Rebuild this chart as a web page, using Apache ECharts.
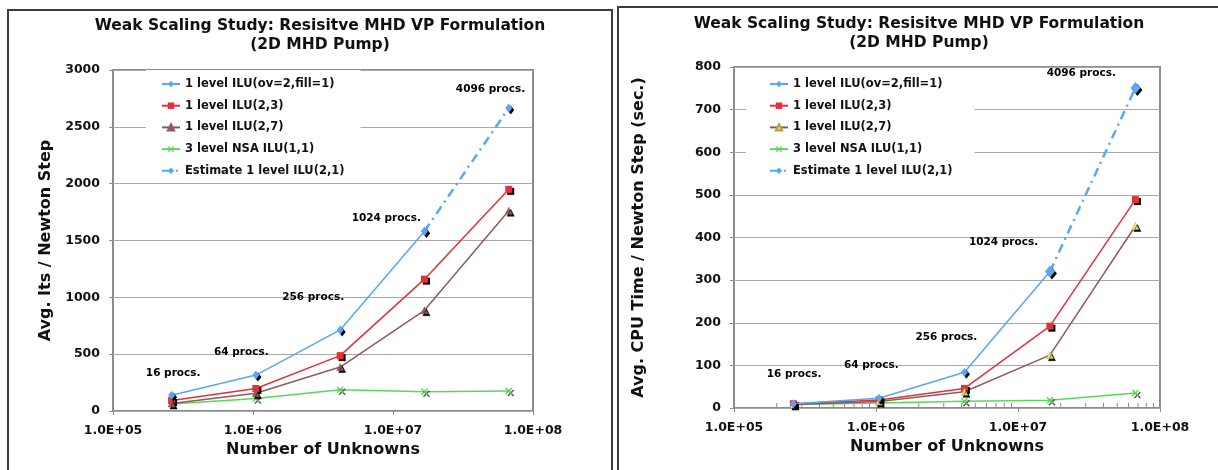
<!DOCTYPE html>
<html>
<head>
<meta charset="utf-8">
<script src="https://cdn.jsdelivr.net/npm/echarts@6/dist/echarts.min.js"></script>
<style>
html,body{margin:0;padding:0;background:#fff;width:1218px;height:470px;overflow:hidden;}
.box{position:absolute;box-sizing:border-box;border:2px solid #3c3c3c;}
.chart{position:absolute;top:0;height:470px;}
</style>
</head>
<body>
<div class="box" style="left:7px;top:9px;width:606px;height:520px"></div>
<div class="box" style="left:617px;top:6px;width:700px;height:520px"></div>
<div id="c1" class="chart" style="left:0;width:614px"></div>
<div id="c2" class="chart" style="left:614px;width:604px"></div>
<script>
// ---- data ----
const unknowns = [262144, 1048576, 4194304, 16777216, 67108864];
const seriesNames = ['1 level ILU(ov=2,fill=1)', '1 level ILU(2,3)', '1 level ILU(2,7)', '3 level NSA ILU(1,1)', 'Estimate 1 level ILU(2,1)'];
const procLabels = ['16 procs.', '64 procs.', '256 procs.', '1024 procs.', '4096 procs.'];
const xTickLabels = ['1.0E+05', '1.0E+06', '1.0E+07', '1.0E+08'];

// Avg. Its / Newton Step
const itsIlu21 = [138, 316, 713, 1582, null];
const itsEstimate = [null, null, null, 1582, 2665];
const itsIlu23 = [92, 198, 487, 1160, 1950];
const itsIlu27 = [66, 156, 387, 886, 1762];
const itsNsa = [62, 110, 187, 170, 176];
const itsLabelX = [2.69e5, 8.26e5, 2.69e6, 8.95e6, 4.97e7];
const itsLabelY = [334, 519, 1003, 1698, 2833];

// Avg. CPU Time / Newton Step (sec.)
const cpuIlu21 = [10, 23, 84, 320, null];
const cpuEstimate = [null, null, null, 320, 751];
const cpuIlu23 = [10, 19, 46, 192, 489];
const cpuIlu27 = [8, 15, 38, 124, 427];
const cpuNsa = [8, 12, 16, 18, 35];
const cpuLabelX = [2.65e5, 9.27e5, 3.13e6, 7.91e6, 2.79e7];
const cpuLabelY = [80, 101, 165, 388, 785];

// ---- styling ----
const FONT = '"DejaVu Sans", Verdana, sans-serif';
const BLUE = '#5aa7f2', RED = '#e5303a', BROWN = '#915a5a', GREEN = '#58d858', YELLOW = '#f2e36a';
const XPATH = 'path://M0,1.4L1.4,0L5,3.6L8.6,0L10,1.4L6.4,5L10,8.6L8.6,10L5,6.4L1.4,10L0,8.6L3.6,5Z';
const TITLE1 = 'Weak Scaling Study: Resisitve MHD VP Formulation';
const TITLE2 = '(2D MHD Pump)';

function pairs(vals) {
  const out = [];
  vals.forEach((v, i) => { if (v !== null) out.push([unknowns[i], v]); });
  return out;
}
function shadow(c) {
  return { shadowColor: c || '#000', shadowOffsetX: 2, shadowOffsetY: 2, shadowBlur: 0 };
}
function expLabel(v) {
  const e = Math.round(Math.log10(v));
  const idx = e - 5;
  return xTickLabels[idx] !== undefined ? xTickLabels[idx] : '';
}

function buildOption(cfg) {
  const series = [
    { name: seriesNames[0], type: 'line', data: pairs(cfg.v21), symbol: 'diamond', symbolSize: [7, 9],
      lineStyle: { color: BLUE, width: 1.5 }, itemStyle: Object.assign({ color: BLUE }, shadow()), z: 4 },
    { name: seriesNames[1], type: 'line', data: pairs(cfg.v23), symbol: 'rect', symbolSize: 7,
      lineStyle: { color: RED, width: 1.5 }, itemStyle: Object.assign({ color: RED }, shadow()), z: 3 },
    { name: seriesNames[2], type: 'line', data: pairs(cfg.v27), symbol: 'triangle', symbolSize: 7,
      lineStyle: { color: BROWN, width: 1.5 },
      itemStyle: Object.assign({ color: cfg.triFill, borderColor: cfg.triFill === YELLOW ? '#b8a040' : BROWN, borderWidth: 0.5 }, shadow()), z: 3 },
    { name: seriesNames[3], type: 'line', data: pairs(cfg.vNsa), symbol: XPATH, symbolSize: 7,
      lineStyle: { color: GREEN, width: 1.5 }, itemStyle: Object.assign({ color: GREEN }, shadow('#555')), z: 2 },
    { name: seriesNames[4], type: 'line', data: pairs(cfg.vEst), symbol: 'diamond', symbolSize: cfg.estSize,
      lineStyle: { color: BLUE, width: 2.5, type: [9, 5, 2, 5] }, itemStyle: Object.assign({ color: BLUE }, shadow()), z: 5 },
    { name: 'labels', type: 'scatter', silent: true, symbol: 'circle', symbolSize: 1,
      itemStyle: { color: 'rgba(0,0,0,0)' },
      data: cfg.labX.map((x, i) => ({ value: [x, cfg.labY[i]], name: procLabels[i] })),
      label: { show: true, position: 'inside', formatter: '{b}', fontFamily: FONT, fontWeight: 'bold', fontSize: 10.5,
        color: '#000', textBorderWidth: 0, opacity: 1 }, z: 6 }
  ];
  if (cfg.minorTicks) {
    const vals = [];
    for (let d = 5; d <= 7; d++) for (let k = 2; k <= 9; k++) vals.push(k * Math.pow(10, d));
    series.push({ type: 'custom', silent: true, z: 1, data: vals.map(v => [v, 0]),
      renderItem: (params, api) => {
        const p = api.coord([api.value(0), 0]);
        return { type: 'line', shape: { x1: p[0], y1: p[1], x2: p[0], y2: p[1] - 5 }, style: { stroke: '#8c8c8c', lineWidth: 1 } };
      } });
  }
  const textStyle = { fontFamily: FONT, fontWeight: 'bold', color: '#111' };
  return {
    animation: false,
    graphic: [
      { type: 'text', x: cfg.titleX, y: cfg.titleY, style: { text: TITLE1, font: 'bold 15.5px ' + FONT, fill: '#111', align: 'center', verticalAlign: 'middle', textAlign: 'center', textVerticalAlign: 'middle' } },
      { type: 'text', x: cfg.titleX, y: cfg.titleY + 19, style: { text: TITLE2, font: 'bold 15.5px ' + FONT, fill: '#111', align: 'center', verticalAlign: 'middle', textAlign: 'center', textVerticalAlign: 'middle' } }
    ],
    grid: { left: cfg.grid[0], top: cfg.grid[1], width: cfg.grid[2], height: cfg.grid[3], show: true,
      borderColor: '#8c8c8c', borderWidth: 2, backgroundColor: 'transparent', containLabel: false, outerBoundsMode: 'none' },
    legend: {
      data: seriesNames, orient: 'vertical', left: cfg.legend[0], top: cfg.legend[1], padding: cfg.legendPad,
      itemWidth: 18, itemHeight: 8, itemGap: 7.7, selectedMode: false, backgroundColor: '#fff',
      textStyle: Object.assign({ fontSize: 11.5, lineHeight: 14 }, textStyle)
    },
    xAxis: {
      type: 'log', logBase: 10, min: 1e5, max: 1e8,
      name: 'Number of Unknowns', nameLocation: 'middle', nameGap: cfg.xNameGap,
      nameTextStyle: Object.assign({ fontSize: 16 }, textStyle),
      axisLine: { show: false },
      axisTick: { show: true, length: 4, lineStyle: { color: '#8c8c8c', width: 1 } },
      axisLabel: Object.assign({ fontSize: 12.5, margin: 13, formatter: expLabel }, textStyle),
      splitLine: { show: false }, minorTick: { show: false }
    },
    yAxis: {
      type: 'value', min: 0, max: cfg.yMax, interval: cfg.yInt,
      name: cfg.yName, nameLocation: 'middle', nameGap: cfg.yNameGap,
      nameTextStyle: Object.assign({ fontSize: 16 }, textStyle),
      axisLine: { show: false },
      axisTick: { show: true, length: 4, lineStyle: { color: '#8c8c8c', width: 1 } },
      axisLabel: Object.assign({ fontSize: 12.5, margin: cfg.yLabMargin, formatter: v => String(v) }, textStyle),
      splitLine: { show: true, lineStyle: { color: '#a8a8a8', width: 1 } }
    },
    series: series
  };
}

const c1 = echarts.init(document.getElementById('c1'), null, { renderer: 'canvas' });
c1.setOption(buildOption({
  v21: itsIlu21, vEst: itsEstimate, v23: itsIlu23, v27: itsIlu27, vNsa: itsNsa,
  labX: itsLabelX, labY: itsLabelY, triFill: BROWN, estSize: [7, 9], minorTicks: false,
  titleX: 320, titleY: 26, grid: [113, 70, 420, 341], legend: [146, 70], legendPad: [7, 16, 5, 15],
  xNameGap: 28, yMax: 3000, yInt: 500, yName: 'Avg. Its / Newton Step', yNameGap: 53, yLabMargin: 13
}));

const c2 = echarts.init(document.getElementById('c2'), null, { renderer: 'canvas' });
c2.setOption(buildOption({
  v21: cpuIlu21, vEst: cpuEstimate, v23: cpuIlu23, v27: cpuIlu27, vNsa: cpuNsa,
  labX: cpuLabelX, labY: cpuLabelY, triFill: YELLOW, estSize: [10, 12], minorTicks: true,
  titleX: 305, titleY: 24, grid: [120, 67, 426, 341], legend: [132, 70], legendPad: [7, 22, 5, 23],
  xNameGap: 30, yMax: 800, yInt: 100, yName: 'Avg. CPU Time / Newton Step (sec.)', yNameGap: 87, yLabMargin: 13
}));
</script>
</body>
</html>
